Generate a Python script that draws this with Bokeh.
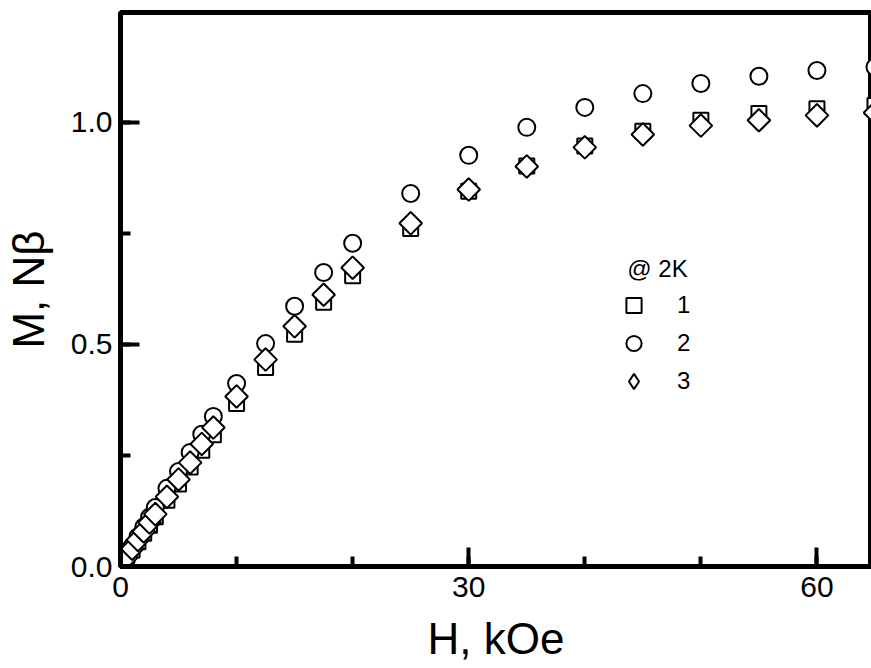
import numpy as np
from bokeh.plotting import figure
from bokeh.models import (Range1d, SingleIntervalTicker, Legend, LegendItem, ColumnDataSource,
                          NumeralTickFormatter)
from bokeh.embed import file_html
from bokeh.resources import INLINE

# Field H (kOe)
H = [0.25, 0.5, 1, 1.5, 2, 2.5, 3, 4, 5, 6, 7, 8, 10, 12.5, 15, 17.5, 20,
     25, 30, 35, 40, 45, 50, 55, 60, 65]
# Sample 1 (squares)
M1 = [0.009, 0.019, 0.037, 0.056, 0.075, 0.093, 0.112, 0.149, 0.186, 0.224, 0.262, 0.297,
      0.367, 0.448, 0.523, 0.595, 0.655, 0.761, 0.845, 0.902, 0.947, 0.980, 1.005, 1.020,
      1.031, 1.038]
# Sample 2 (circles)
M2 = [0.011, 0.022, 0.045, 0.067, 0.089, 0.111, 0.133, 0.176, 0.214, 0.257, 0.298, 0.338,
      0.412, 0.502, 0.586, 0.662, 0.728, 0.840, 0.926, 0.989, 1.034, 1.065, 1.088, 1.104,
      1.117, 1.125]
# Sample 3 (diamonds)
M3 = [0.010, 0.020, 0.040, 0.060, 0.079, 0.099, 0.118, 0.157, 0.196, 0.234, 0.276, 0.313,
      0.383, 0.466, 0.541, 0.612, 0.673, 0.773, 0.849, 0.901, 0.944, 0.973, 0.993, 1.005,
      1.016, 1.022]
labels = ["1", "2", "3"]
legend_title = "\u00a0\u00a0@ 2K"
x_label = "H, kOe"
y_label = "M, N\u03b2"

FONT = "Liberation Sans"

p = figure(width=871, height=668, output_backend="svg", toolbar_location=None,
           x_range=Range1d(0, 64.7), y_range=Range1d(0, 1.2477),
           min_border_left=119, min_border_right=0, min_border_top=12, min_border_bottom=102)
p.background_fill_color = "white"
p.border_fill_color = "white"
p.outline_line_color = "black"
p.outline_line_width = 5
p.grid.visible = False

src = ColumnDataSource(dict(H=H, M1=M1, M2=M2, M3=M3))
style = dict(fill_color="white", line_color="black", line_width=2)
r1 = p.scatter("H", "M1", source=src, marker="square", size=15, **style)
r2 = p.scatter("H", "M2", source=src, marker="circle", size=17, **style)
# legend key for series 3 (legend draws markers unrotated): a diamond marker that sits
# entirely inside the rotated squares drawn on top of it
k3 = p.scatter("H", "M3", source=src, marker="diamond", size=14, **style)
r3 = p.scatter("H", "M3", source=src, marker="square", angle=np.pi / 4, size=16, **style)

p.xaxis.ticker = SingleIntervalTicker(interval=30, num_minor_ticks=3)
p.yaxis.ticker = SingleIntervalTicker(interval=0.5, num_minor_ticks=2)
p.yaxis.formatter = NumeralTickFormatter(format="0.0")
for ax in (p.xaxis, p.yaxis):
    ax.axis_line_width = 5
    ax.major_tick_line_width = 4
    ax.minor_tick_line_width = 4
    ax.major_tick_in = 19
    ax.major_tick_out = 0
    ax.minor_tick_in = 10
    ax.minor_tick_out = 0
    ax.major_label_text_font = FONT
    ax.major_label_text_font_size = "30px"
    ax.major_label_text_color = "black"
    ax.axis_label_text_font = FONT
    ax.axis_label_text_font_size = "44px"
    ax.axis_label_text_font_style = "normal"
    ax.axis_label_text_color = "black"
p.xaxis.axis_label = x_label
p.yaxis.axis_label = y_label
p.xaxis.major_label_standoff = 10
p.yaxis.major_label_standoff = 8
p.xaxis.axis_label_standoff = 14
p.yaxis.axis_label_standoff = 15

legend = Legend(items=[LegendItem(label=labels[0], renderers=[r1]),
                       LegendItem(label=labels[1], renderers=[r2]),
                       LegendItem(label=labels[2], renderers=[k3])],
                location=(494, 166), title=legend_title,
                title_text_font=FONT, title_text_font_size="24px", title_text_font_style="normal",
                title_text_color="black",
                label_text_font=FONT, label_text_font_size="24px", label_text_color="black",
                glyph_width=39, glyph_height=38, label_height=37, label_standoff=24,
                spacing=0, padding=0, margin=0, title_standoff=3,
                border_line_color=None, background_fill_alpha=0)
p.add_layout(legend)

open("out.html", "w").write(file_html(p, INLINE))
